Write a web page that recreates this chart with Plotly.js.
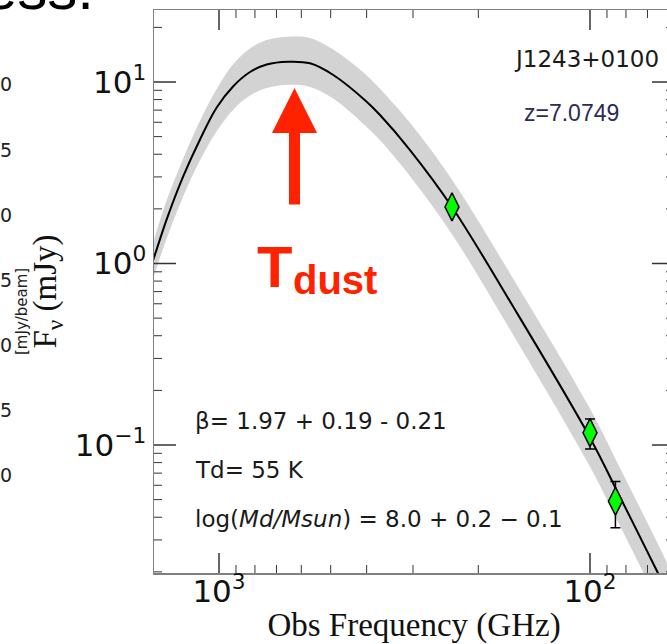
<!DOCTYPE html>
<html>
<head>
<meta charset="utf-8">
<script src="https://cdn.plot.ly/plotly-3.0.1.min.js"></script>
<style>
  html, body { margin: 0; padding: 0; overflow: hidden; background: #fff; }
  #chart { width: 680px; height: 644px; }
</style>
</head>
<body>
<div id="chart"></div>
<script>
// Greybody fit to the dust continuum of J1243+0100 (observed frame)
const fitFreqGHz = [1507, 1487.6, 1383.6, 1248, 1125, 1014.4, 915.2, 824.9, 743.8, 650.5, 568.4, 491.9, 399.9, 368.1, 305.6, 235.5, 160.3, 100.6, 83.0, 65.6, 57.2];
const fitFlux    = [1.036, 1.121, 1.750, 3.027, 4.823, 7.236, 9.482, 11.35, 12.49, 12.93, 12.68, 10.93, 7.79, 6.58, 4.22, 2.048, 0.5685, 0.1121, 0.0517, 0.0197, 0.011];
const fitUpper   = [1.304, 1.411, 2.229, 3.798, 6.121, 9.150, 12.55, 15.31, 17.04, 17.77, 17.50, 15.08, 10.87, 9.19, 5.96, 2.894, 0.812, 0.162, 0.0747, 0.02847, 0.0159];
const fitLower   = [0.823, 0.8905, 1.374, 2.350, 3.701, 5.351, 7.037, 8.414, 9.259, 9.65, 9.40, 8.10, 5.645, 4.77, 3.023, 1.449, 0.398, 0.0776, 0.0358, 0.01363, 0.00761];

// Continuum photometry
const obsFreqGHz = [235.5, 100.0, 85.4];
const obsFlux    = [2.05, 0.117, 0.049];
const obsErr     = [0, 0.022, 0.014];

// Axis ticks
const xMajorVals = [100, 1000];
const xMajorText = ['10<sup>2</sup>', '10<sup>3</sup>'];
const xMinorVals = [60, 70, 80, 90, 200, 300, 400, 500, 600, 700, 800, 900];
const yMajorVals = [0.1, 1, 10];
const yMajorText = ['10<sup>\u22121</sup>', '10<sup>0</sup>', '10<sup>1</sup>'];
const yMinorVals = [0.02, 0.03, 0.04, 0.05, 0.06, 0.07, 0.08, 0.09,
                    0.2, 0.3, 0.4, 0.5, 0.6, 0.7, 0.8, 0.9,
                    2, 3, 4, 5, 6, 7, 8, 9, 20];

// Fit parameters shown in the panel
const sourceName = 'J1243+0100';
const redshiftText = 'z=7.0749';
const betaText = '\u03b2= 1.97 + 0.19 - 0.21';
const tdText = 'Td= 55 K';
const massText = 'log(<i>Md/Msun</i>) = 8.0 + 0.2 \u2212 0.1';

// plot-area geometry (pixels inside the 680 x 644 figure)
const L = 154, R = 674, T = 10, B = 573;
const W = R - L, H = B - T;
const px = v => (v - L) / W;
const py = v => (B - v) / H;

const xRange = [3.1752, 1.7736];
const yRange = [-1.7052, 1.3967];

const traces = [
  { x: fitFreqGHz, y: fitLower, mode: 'lines', line: { width: 0, shape: 'spline', color: 'rgba(0,0,0,0)' },
    hoverinfo: 'skip', showlegend: false },
  { x: fitFreqGHz, y: fitUpper, mode: 'lines', line: { width: 0, shape: 'spline', color: 'rgba(0,0,0,0)' },
    fill: 'tonexty', fillcolor: '#d3d3d3', hoverinfo: 'skip', showlegend: false },
  { x: fitFreqGHz, y: fitFlux, mode: 'lines', line: { width: 2, shape: 'spline', color: '#000' },
    showlegend: false },
  { x: obsFreqGHz, y: obsFlux, mode: 'markers',
    marker: { symbol: 'diamond-tall', size: 20, color: '#00ff00', line: { color: '#000', width: 1.5 } },
    error_y: { type: 'data', array: obsErr, visible: true, color: '#000', thickness: 1.5, width: 5 },
    showlegend: false }
];

// inward tick marks on all four sides, placed on the axes' own scales
const shapes = [];
const tickColor = '#333';
function xTicks(vals, len, width) {
  vals.forEach(v => {
    shapes.push({ type: 'line', xref: 'x', yref: 'paper', x0: v, x1: v, y0: 0, y1: len / H, line: { color: tickColor, width: width } });
    shapes.push({ type: 'line', xref: 'x', yref: 'paper', x0: v, x1: v, y0: 1, y1: 1 - len / H, line: { color: tickColor, width: width } });
  });
}
function yTicks(vals, len, width) {
  vals.forEach(v => {
    shapes.push({ type: 'line', xref: 'paper', yref: 'y', x0: 0, x1: len / W, y0: v, y1: v, line: { color: tickColor, width: width } });
    shapes.push({ type: 'line', xref: 'paper', yref: 'y', x0: 1, x1: 1 - len / W, y0: v, y1: v, line: { color: tickColor, width: width } });
  });
}
xTicks(xMajorVals, 20, 1.5);
xTicks(xMinorVals, 8, 1);
yTicks(yMajorVals, 22, 1.5);
yTicks(yMinorVals, 8, 1);

const tickFont = { family: 'DejaVu Sans', size: 31, color: '#111' };
const labelFont = { family: 'DejaVu Sans', size: 23, color: '#1a1a1a' };

const annotations = [
  { xref: 'paper', yref: 'paper', x: px(586), y: py(59), text: sourceName, showarrow: false,
    xanchor: 'center', yanchor: 'middle', font: labelFont },
  { xref: 'paper', yref: 'paper', x: px(571), y: py(113), text: redshiftText, showarrow: false,
    xanchor: 'center', yanchor: 'middle', font: { family: 'Liberation Sans', size: 23, color: '#2b2b55' } },
  { xref: 'paper', yref: 'paper', x: px(193), y: py(421), text: betaText, showarrow: false,
    xanchor: 'left', yanchor: 'middle', font: labelFont },
  { xref: 'paper', yref: 'paper', x: px(193), y: py(470), text: tdText, showarrow: false,
    xanchor: 'left', yanchor: 'middle', font: labelFont },
  { xref: 'paper', yref: 'paper', x: px(193), y: py(519), text: massText, showarrow: false,
    xanchor: 'left', yanchor: 'middle', font: labelFont },
  // T_dust marker: arrow pointing at the peak plus its label
  { xref: 'paper', yref: 'paper', x: px(294.5), y: py(88), text: '', showarrow: true,
    arrowhead: 2, arrowsize: 0.82, arrowwidth: 11, arrowcolor: '#ff2200',
    axref: 'pixel', ayref: 'pixel', ax: 0, ay: 118, standoff: 0 },
  { xref: 'paper', yref: 'paper', x: px(274.5), y: py(266), text: '<b>T</b>', showarrow: false,
    xanchor: 'center', yanchor: 'middle', font: { family: 'Liberation Sans', size: 58, color: '#ff2200' } },
  { xref: 'paper', yref: 'paper', x: px(335), y: py(280), text: '<b>dust</b>', showarrow: false,
    xanchor: 'center', yanchor: 'middle', font: { family: 'Liberation Sans', size: 40, color: '#ff2200' } },
  // neighbouring panel edge: colour-bar labels and heading
  { xref: 'paper', yref: 'paper', x: px(22), y: py(312), text: '[mJy/beam]', showarrow: false, textangle: -90,
    xanchor: 'center', yanchor: 'middle', font: { family: 'DejaVu Sans', size: 15, color: '#222' } },
  { xref: 'paper', yref: 'paper', x: px(96), y: py(24), text: 'ess.', showarrow: false,
    xanchor: 'right', yanchor: 'bottom', font: { family: 'Liberation Sans', size: 60, color: '#000' } }
];

const sideTicks = [['0', 84], ['5', 150], ['0', 215], ['5', 280], ['0', 345], ['5', 410], ['0', 475]];
sideTicks.forEach(([t, yy]) => annotations.push({
  xref: 'paper', yref: 'paper', x: px(14), y: py(yy), text: t, showarrow: false,
  xanchor: 'right', yanchor: 'middle', font: { family: 'DejaVu Sans', size: 19, color: '#222' }
}));

const layout = {
  width: 680, height: 644,
  margin: { l: L, r: 680 - R, t: T, b: 644 - B, pad: 0 },
  paper_bgcolor: '#fff', plot_bgcolor: '#fff',
  showlegend: false,
  xaxis: {
    type: 'log', autorange: false, range: xRange,
    tickmode: 'array', tickvals: xMajorVals, ticktext: xMajorText,
    ticks: '', ticklabelstandoff: -10,
    showline: true, linecolor: '#808080', linewidth: 1.5, mirror: true,
    showgrid: false, zeroline: false, automargin: false,
    tickfont: tickFont,
    title: { text: 'Obs Frequency (GHz)', standoff: 6, font: { family: 'Liberation Serif', size: 33, color: '#111' } }
  },
  yaxis: {
    type: 'log', autorange: false, range: yRange,
    tickmode: 'array', tickvals: yMajorVals, ticktext: yMajorText,
    ticks: '',
    showline: true, linecolor: '#808080', linewidth: 1.5, mirror: true,
    showgrid: false, zeroline: false, automargin: false,
    tickfont: tickFont,
    title: { text: 'F<sub>\u03bd</sub> (mJy)', standoff: 8, font: { family: 'Liberation Serif', size: 33, color: '#111' } }
  },
  shapes: shapes,
  annotations: annotations
};

Plotly.newPlot('chart', traces, layout, { displayModeBar: false, staticPlot: true });
</script>
</body>
</html>
